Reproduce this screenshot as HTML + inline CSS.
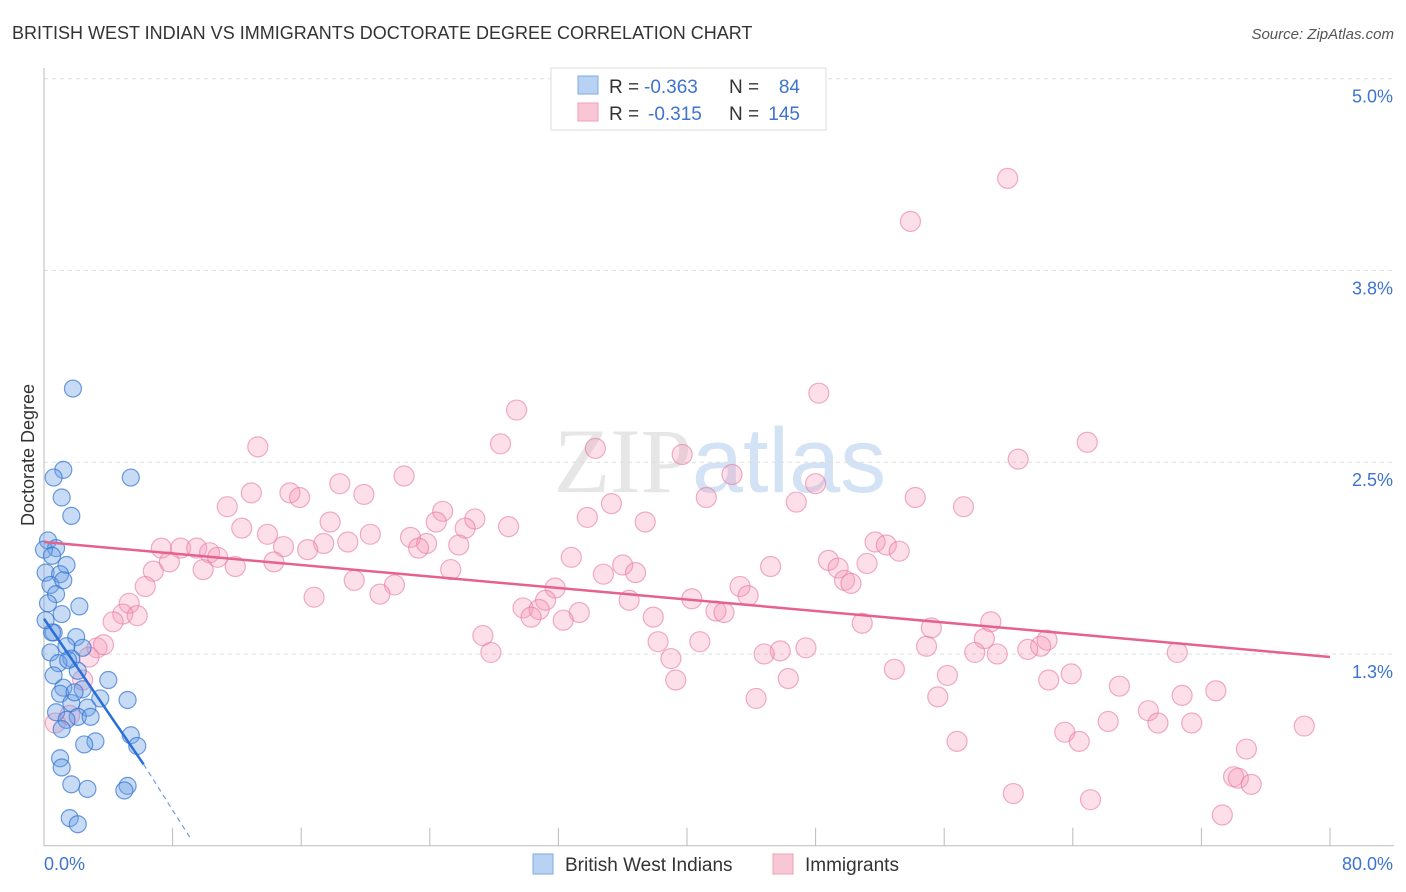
<!DOCTYPE html>
<html><head><meta charset="utf-8"><style>
body{margin:0;background:#fff;font-family:"Liberation Sans",sans-serif;}
svg{display:block}
</style></head><body>
<svg id="chart" width="1406" height="892">
<text x="12" y="39" font-size="18" fill="#333">BRITISH WEST INDIAN VS IMMIGRANTS DOCTORATE DEGREE CORRELATION CHART</text>
<text x="1394" y="39" font-size="15" fill="#555" font-style="italic" text-anchor="end">Source: ZipAtlas.com</text>
<text x="720" y="492" font-size="92" fill="#e6e6e6" text-anchor="middle" font-family="Liberation Serif">ZIP<tspan fill="#d3e3f5" font-family="Liberation Sans">atlas</tspan></text>
<g id="grid"></g>
<g id="axes"></g>
<g id="pts"></g>
<g id="trends"></g>
<text transform="translate(34,455) rotate(-90)" font-size="18" fill="#333" text-anchor="middle">Doctorate Degree</text>
<g>
<rect x="551" y="68" width="275" height="62" fill="#fff" stroke="#ddd"/>
<rect x="578" y="76" width="20" height="18" fill="#b8d2f4" stroke="#7ea9e3"/>
<text x="609" y="93" font-size="19" fill="#333">R =</text>
<text x="644" y="93" font-size="19" fill="#3d74d0">-0.363</text>
<text x="729" y="93" font-size="19" fill="#333">N =</text>
<text x="800" y="93" font-size="19" fill="#3d74d0" text-anchor="end">84</text>
<rect x="578" y="103" width="20" height="18" fill="#f9c6d6" stroke="#eea2bb"/>
<text x="609" y="120" font-size="19" fill="#333">R =</text>
<text x="648" y="120" font-size="19" fill="#3d74d0">-0.315</text>
<text x="729" y="120" font-size="19" fill="#333">N =</text>
<text x="800" y="120" font-size="19" fill="#3d74d0" text-anchor="end">145</text>
</g>
<g>
<rect x="533" y="854" width="20" height="20" fill="#b8d2f4" stroke="#7ea9e3"/>
<text x="565" y="871" font-size="19" fill="#333">British West Indians</text>
<rect x="773" y="854" width="20" height="20" fill="#f9c6d6" stroke="#eea2bb"/>
<text x="805" y="871" font-size="19" fill="#333">Immigrants</text>
</g>
</svg>
<script>
const yTicks=[1.25,2.5,3.75,5.0];
const yTickLabels=["1.3%","2.5%","3.8%","5.0%"];
const xTicks=[0,8,16,24,32,40,48,56,64,72,80];
const pinkX=[59.95,53.9,48.2,29.4,64.9,28.4,13.3,34.3,39.7,60.6,22.4,42.8,18.4,48.0,12.9,15.3,19.9,15.9,41.2,54.2,11.4,35.3,46.8,57.2,24.8,33.8,26.8,17.8,24.4,37.4,28.9,12.3,26.2,13.9,20.3,22.8,18.9,17.4,23.8,51.7,14.9,25.8,52.4,7.3,16.4,23.3,8.5,9.5,10.3,53.2,10.8,32.8,48.8,7.8,14.3,36.0,51.2,11.9,45.2,49.4,9.9,36.8,25.3,6.8,34.8,19.3,49.8,50.2,43.3,21.8,31.8,6.3,20.9,16.8,43.8,36.4,40.3,5.3,31.2,29.8,41.8,30.8,33.3,42.3,4.9,5.8,30.3,32.3,37.9,4.3,50.9,58.9,55.2,27.3,58.5,62.4,38.2,40.8,62.0,54.9,47.4,3.3,61.2,57.9,45.8,59.3,70.5,27.8,44.8,39.0,2.8,52.9,63.9,56.2,46.3,39.3,62.5,2.4,66.9,72.9,70.8,55.6,44.3,68.7,66.2,69.3,71.4,78.4,63.5,56.8,64.4,74.8,0.7,74.0,74.3,75.1,60.3,65.1,73.3,1.6,3.7];
const pinkY=[4.35,4.07,2.95,2.84,2.63,2.62,2.60,2.59,2.55,2.52,2.41,2.42,2.36,2.36,2.30,2.30,2.29,2.27,2.27,2.27,2.21,2.23,2.24,2.21,2.18,2.14,2.13,2.11,2.11,2.11,2.08,2.07,2.07,2.03,2.03,2.01,1.98,1.97,1.97,1.98,1.95,1.96,1.96,1.94,1.93,1.94,1.94,1.94,1.91,1.92,1.88,1.88,1.86,1.85,1.85,1.83,1.84,1.82,1.82,1.81,1.80,1.78,1.80,1.79,1.77,1.73,1.73,1.71,1.69,1.70,1.68,1.69,1.64,1.62,1.63,1.60,1.61,1.58,1.60,1.55,1.53,1.54,1.52,1.52,1.51,1.50,1.49,1.47,1.49,1.46,1.45,1.46,1.42,1.37,1.35,1.34,1.33,1.33,1.30,1.30,1.29,1.29,1.28,1.26,1.27,1.25,1.26,1.26,1.25,1.22,1.23,1.15,1.12,1.11,1.09,1.08,1.08,1.08,1.04,1.01,0.98,0.97,0.96,0.88,0.81,0.80,0.80,0.78,0.74,0.68,0.68,0.63,0.80,0.45,0.44,0.40,0.34,0.30,0.20,0.85,1.31];
const blueX=[1.8,1.2,0.6,5.4,1.1,1.7,0.25,0.75,0,0.5,1.4,0.1,1.0,0.4,0.75,0.25,2.2,1.1,0.6,2.0,1.4,2.4,0.4,1.7,0.9,2.1,0.6,4.0,1.2,2.4,1.0,3.5,5.2,1.7,2.7,0.75,2.1,1.4,1.1,5.4,3.2,2.5,5.8,1.0,1.1,5.2,1.7,2.7,5.0,1.6,2.1,0.5,0.1,1.5,1.9,2.9,1.2];
const blueY=[2.98,2.45,2.40,2.40,2.27,2.15,1.99,1.94,1.93,1.89,1.83,1.78,1.77,1.70,1.64,1.58,1.56,1.51,1.39,1.36,1.30,1.29,1.26,1.22,1.19,1.14,1.11,1.08,1.03,1.02,0.99,0.96,0.95,0.93,0.90,0.87,0.84,0.82,0.76,0.72,0.68,0.66,0.65,0.57,0.51,0.39,0.40,0.37,0.36,0.18,0.14,1.39,1.47,1.21,1.0,0.84,1.73];
const pinkTrend=[[0,1.98],[80,1.23]];
const blueTrend=[[0,1.48],[6.2,0.53]];
const blueTrendExt=[[6.2,0.53],[9.1,0.05]];
const X0=44,X1=1330,Y0=845.7,PXPER=153.4;
const sx=v=>X0+(X1-X0)*v/80, sy=v=>Y0-v*PXPER;
const NS="http://www.w3.org/2000/svg";
function mk(t,a,p){const e=document.createElementNS(NS,t);for(const k in a)e.setAttribute(k,a[k]);p.appendChild(e);return e;}
const grid=document.getElementById('grid'),axes=document.getElementById('axes'),pts=document.getElementById('pts'),tr=document.getElementById('trends');
yTicks.forEach((v,i)=>{
 const l=mk('line',{x1:X0,x2:1394,y1:sy(v),y2:sy(v),stroke:'#ddd','stroke-dasharray':'4,4'},grid);
 
 
 const t=mk('text',{x:1393,y:sy(v)+24,'font-size':18,fill:'#3d74d0','text-anchor':'end'},axes);
 t.textContent=yTickLabels[i];
 
 
});
const ax=mk('path',{d:`M${X0},68V${Y0}H1394`,stroke:'#bbb',fill:'none'},axes);


xTicks.forEach((v,i)=>{if(i===0)return;
 const l=mk('line',{x1:sx(v),x2:sx(v),y1:Y0,y2:Y0-18,stroke:'#bbb'},axes);
 
 
});
[[0,"0.0%",44,'start'],[80,"80.0%",1393,'end']].forEach(d=>{
 const t=mk('text',{x:d[2],y:870,'font-size':18,fill:'#3d74d0','text-anchor':d[3]},axes);t.textContent=d[1];
 
 
});
pinkX.forEach((v,i)=>{
 const c=mk('circle',{cx:sx(v),cy:sy(pinkY[i]),r:10,fill:'rgba(244,150,182,0.3)',stroke:'rgba(232,120,160,0.6)','stroke-width':1.2},pts);
 
 
});
blueX.forEach((v,i)=>{
 const c=mk('circle',{cx:sx(v),cy:sy(blueY[i]),r:8.5,fill:'rgba(110,160,230,0.38)',stroke:'rgba(50,115,210,0.7)','stroke-width':1.2},pts);
 
 
});
const pl=mk('line',{x1:sx(pinkTrend[0][0]),y1:sy(pinkTrend[0][1]),x2:sx(pinkTrend[1][0]),y2:sy(pinkTrend[1][1]),stroke:'#e5618f','stroke-width':2.5},tr);


const bl=mk('line',{x1:sx(blueTrend[0][0]),y1:sy(blueTrend[0][1]),x2:sx(blueTrend[1][0]),y2:sy(blueTrend[1][1]),stroke:'#2a6fd6','stroke-width':2.5},tr);


const bd=mk('line',{x1:sx(blueTrendExt[0][0]),y1:sy(blueTrendExt[0][1]),x2:sx(blueTrendExt[1][0]),y2:sy(blueTrendExt[1][1]),stroke:'#6f9ee0','stroke-width':1.2,'stroke-dasharray':'5,4'},tr);


</script>
</body></html>
